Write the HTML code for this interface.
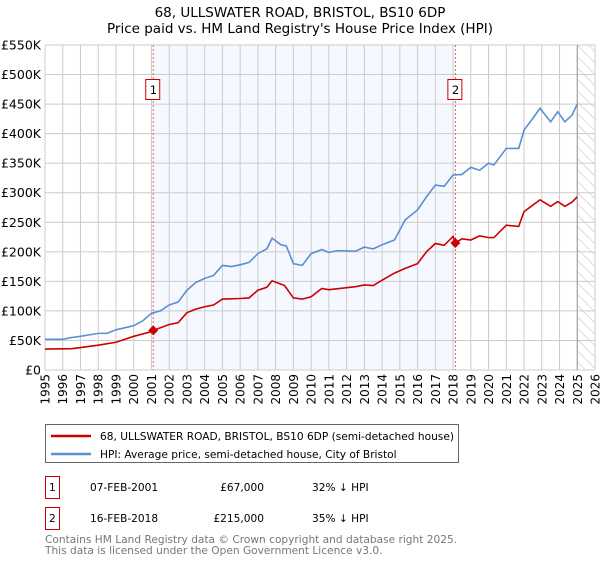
<!DOCTYPE html>
<html><head><meta charset="utf-8"><style>
body{margin:0;background:#fff;font-family:"DejaVu Sans","Liberation Sans",sans-serif;}
svg text{font-family:"DejaVu Sans","Liberation Sans",sans-serif;}
</style></head><body>
<svg id="chart" width="600" height="560" xmlns="http://www.w3.org/2000/svg">
<defs><pattern id="hatch" patternUnits="userSpaceOnUse" width="8" height="8" patternTransform="rotate(-45)"><line x1="0" y1="0" x2="0" y2="8" stroke="#bbb" stroke-width="1"/></pattern></defs>
<text x="300" y="17" text-anchor="middle" font-size="13.5">68, ULLSWATER ROAD, BRISTOL, BS10 6DP</text>
<text x="300" y="33" text-anchor="middle" font-size="13.5">Price paid vs. HM Land Registry's House Price Index (HPI)</text>
<g id="plot"></g>
<g>
<rect x="45.5" y="424.5" width="413" height="38" fill="#fff" stroke="#666"/>
<line x1="51" y1="436" x2="91" y2="436" stroke="#cc0000" stroke-width="2.5"/>
<text x="100" y="440" font-size="10.6">68, ULLSWATER ROAD, BRISTOL, BS10 6DP (semi-detached house)</text>
<line x1="51" y1="454" x2="91" y2="454" stroke="#5b8fd4" stroke-width="2.5"/>
<text x="100" y="458" font-size="10.6">HPI: Average price, semi-detached house, City of Bristol</text>
</g>
<g font-size="10.6">
<rect x="45.5" y="476.5" width="14" height="22" fill="#fff" stroke="#cc0000"/>
<text x="49" y="491">1</text>
<text x="90" y="491">07-FEB-2001</text>
<text x="264" y="491" text-anchor="end">£67,000</text>
<text x="312" y="491">32% ↓ HPI</text>
<rect x="45.5" y="507.5" width="14" height="22" fill="#fff" stroke="#cc0000"/>
<text x="49" y="522">2</text>
<text x="90" y="522">16-FEB-2018</text>
<text x="264" y="522" text-anchor="end">£215,000</text>
<text x="312" y="522">35% ↓ HPI</text>
</g>
<text x="45" y="543" font-size="10.6" fill="#777">Contains HM Land Registry data © Crown copyright and database right 2025.</text>
<text x="45" y="554" font-size="10.6" fill="#777">This data is licensed under the Open Government Licence v3.0.</text>
</svg>
<script>
const hpiYears=[1995,1996,1996.5,1997,1998,1998.5,1999,2000,2000.5,2001,2001.5,2002,2002.5,2003,2003.5,2004,2004.5,2005,2005.5,2006,2006.5,2007,2007.5,2007.8,2008.3,2008.6,2009,2009.5,2010,2010.6,2011,2011.5,2012.5,2013,2013.5,2014,2014.7,2015.3,2016,2016.5,2017,2017.5,2018,2018.5,2019,2019.5,2020,2020.3,2021,2021.7,2022,2022.5,2022.9,2023.5,2023.9,2024.3,2024.7,2025];
const hpiValues=[52,52,55,57,62,62,68,75,83,96,100,110,115,135,148,155,160,177,175,178,182,197,205,223,212,210,180,177,197,204,199,202,201,208,205,212,220,254,271,293,313,311,330,331,343,338,350,347,375,375,406,426,443,420,437,420,431,450];
const priceYears=[1995,1996.5,1997,1998,1999,2000,2001,2001.1,2002,2002.5,2003,2003.5,2004,2004.5,2005,2006,2006.5,2007,2007.5,2007.8,2008.5,2009,2009.5,2010,2010.6,2011,2012.5,2013,2013.5,2014,2014.7,2015.3,2016,2016.5,2017,2017.5,2018,2018.13,2018.5,2019,2019.5,2020,2020.3,2021,2021.7,2022,2022.9,2023.5,2023.9,2024.3,2024.7,2025];
const priceValues=[35.5,36,38,42,47,57,65,67,77,80,97,103,107,110,120,121,122,135,140,151,143,122,120,124,138,136,141,144,143,152,164,172,180,200,214,211,226,215,222,220,227,224,224,245,243,268,288,277,285,277,284,293];
const saleYears=[2001.1,2018.13];
const saleValues=[67,215];
const saleLabels=["1","2"];
const yTicks=[0,50,100,150,200,250,300,350,400,450,500,550];
const yTickLabels=["£0","£50K","£100K","£150K","£200K","£250K","£300K","£350K","£400K","£450K","£500K","£550K"];
const xMin=1995,xMax=2026,L=45,R=595,T=45,B=370,yMax=550,hatchStart=2025;
const X=v=>L+(v-xMin)/(xMax-xMin)*(R-L);
const Y=v=>B-v/yMax*(B-T);
const NS="http://www.w3.org/2000/svg";
const g=document.getElementById('plot');
function mk(tag,attrs,parent){const e=document.createElementNS(NS,tag);for(const k in attrs)e.setAttribute(k,attrs[k]);(parent||g).appendChild(e);return e;}
let e=mk('rect',{x:X(saleYears[0]),y:T,width:X(saleYears[1])-X(saleYears[0]),height:B-T,fill:'#eef3fd',opacity:0.6});


e=mk('rect',{x:X(hatchStart),y:T,width:R-X(hatchStart),height:B-T,fill:'url(#hatch)'});


for(let yr=xMin;yr<=xMax;yr++){
 e=mk('line',{x1:X(yr),x2:X(yr),y1:T,y2:B,stroke:'#ccc','stroke-width':1});
 
 
 const t=mk('text',{x:0,y:0,'font-size':12,'text-anchor':'end',transform:`translate(${X(yr)+4.5},374) rotate(-90)`});
 t.textContent=yr;
 
 
}
yTicks.forEach((v,i)=>{
 e=mk('line',{x1:L,x2:R,y1:Y(v),y2:Y(v),stroke:'#ccc','stroke-width':1});
 
 
 const t=mk('text',{x:41,y:Y(v)+4.5,'font-size':12.5,'text-anchor':'end'});
 t.textContent=yTickLabels[i];
 
 
});
e=mk('line',{x1:X(hatchStart),x2:X(hatchStart),y1:T,y2:B,stroke:'#999','stroke-width':1});


saleYears.forEach((yr,i)=>{
 e=mk('line',{x1:X(yr),x2:X(yr),y1:T,y2:B,stroke:'#e06060','stroke-width':1,'stroke-dasharray':'2,2'});
 
 
 e=mk('rect',{x:X(yr)-7.5,y:79.5,width:14,height:20,fill:'#fff',stroke:'#cc0000'});
 
 
 const t=mk('text',{x:X(yr)-3.5,y:94,'font-size':11.5});
 t.textContent=saleLabels[i];
 
 
});
e=mk('polyline',{points:hpiYears.map((y,i)=>X(y)+','+Y(hpiValues[i])).join(' '),fill:'none',stroke:'#5b8fd4','stroke-width':1.6});


e=mk('polyline',{points:priceYears.map((y,i)=>X(y)+','+Y(priceValues[i])).join(' '),fill:'none',stroke:'#cc0000','stroke-width':1.6});


saleYears.forEach((yr,i)=>{
 const x=X(yr),y=Y(saleValues[i]);
 e=mk('polygon',{points:`${x},${y-5} ${x+5},${y} ${x},${y+5} ${x-5},${y}`,fill:'#cc0000'});
 
 
});
</script>
</body></html>
